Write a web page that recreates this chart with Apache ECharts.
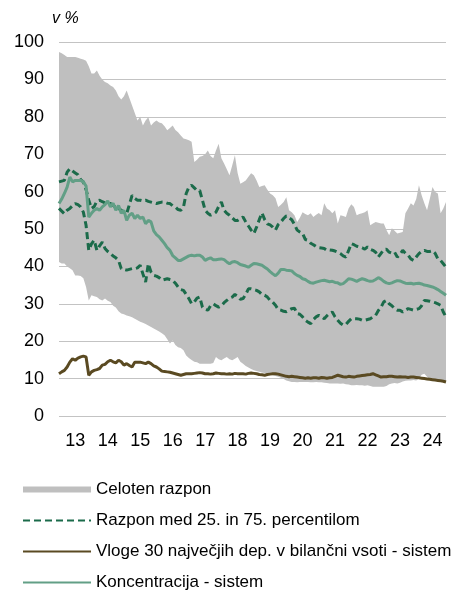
<!DOCTYPE html>
<html>
<head>
<meta charset="utf-8">
<script src="https://cdn.jsdelivr.net/npm/echarts@6/dist/echarts.min.js"></script>
<style>
  html, body { margin: 0; padding: 0; background: #fff; }
  #chart { width: 464px; height: 592px; }
</style>
</head>
<body>
<div id="chart"></div>
<script>
// monthly data, Jan 2013 - Dec 2024, in %
const years = [2013, 2014, 2015, 2016, 2017, 2018, 2019, 2020, 2021, 2022, 2023, 2024];
const yearLabels = ["13", "14", "15", "16", "17", "18", "19", "20", "21", "22", "23", "24"];

const rangeMax = [
  97.3, 97, 96.5, 96, 96, 96, 96, 95.8, 95.5, 95.3, 95, 93.5,
  91.6, 91.6, 92.4, 91, 90, 89.3, 89, 88.4, 88, 87, 85.5, 84.6,
  85.5, 87, 85, 83, 81, 79, 80, 77.7, 79, 79.9, 77.7, 78.5,
  79, 78.5, 78.3, 77.5, 76.4, 77, 77.7, 76.5, 75.9, 75, 74.2, 74,
  73.7, 73.3, 67.9, 68.5, 69.3, 69.5, 70, 71, 69.5, 68.9, 71, 72.8,
  68.9, 67.5, 66, 64.4, 67, 69.7, 65, 62.1, 62.5, 63, 64, 64.9,
  64.4, 63, 61.2, 61.5, 61.7, 60.5, 59.5, 59, 58.2, 55.9, 56.5, 57.2,
  58.5, 55, 54.5, 53.7, 51.9, 53, 54.5, 54, 53.7, 54.2, 53.2, 53.8,
  54.3, 53.7, 56.9, 55.5, 55, 54.2, 55, 51.5, 53.7, 53.5, 53.2, 55.5,
  56.6, 55.9, 53.7, 54, 54.2, 54.5, 55, 51, 51.5, 51.9, 51.7, 51.5,
  51.5, 49.7, 48.3, 50.2, 49.5, 48.8, 49, 49.2, 54.2, 55.5, 56.9, 56.3,
  58, 61.7, 59, 56.9, 55, 58, 61.2, 59.9, 59.5, 54.2, 55.5, 57.2
];

const rangeMin = [
  41.2, 40.8, 40.8, 40, 39.5, 39, 37.6, 37.6, 37.4, 36.8, 34.5, 30.9,
  32.3, 32, 31.8, 31.2, 30.9, 31.4, 30.8, 30.5, 29.5, 29, 28, 27.4,
  27.2, 26.9, 26.7, 26.4, 26, 25.6, 25.2, 24.9, 24.6, 24.2, 23.8, 23.4,
  23, 22.6, 22.1, 21.6, 20.5, 19.4, 20.2, 19, 18.4, 18.2, 17.6, 16.2,
  15.5, 15, 14.5, 14.4, 14, 14, 14, 14, 14, 14.2, 15.8, 15.2,
  14.9, 15.4, 15.8, 15.2, 14.9, 15.3, 15.8, 14.5, 14, 13.4, 13, 12.6,
  12.2, 12, 11.8, 11.6, 11.5, 11.3, 11, 10.9, 10.7, 10.5, 10.2, 9.9,
  9.5, 9.3, 9.1, 9.1, 9, 9.1, 9.1, 9.1, 9.1, 9, 9, 9.1,
  9, 9, 8.9, 8.8, 8.7, 8.7, 8.7, 8.7, 8.6, 8.7, 8.5, 8.4,
  8.2, 8.2, 8.3, 8.2, 8.2, 8.1, 8.2, 8, 7.8, 7.8, 7.8, 7.8,
  7.8, 8, 8.5, 8.7, 8.8, 8.7, 8.9, 9.2, 9.4, 9.5, 9.5, 9.6,
  9.5, 10, 11, 11.3, 10.5, 9.8, 9.5, 9.5, 9.5, 9.5, 9.4, 9.4
];

const p75 = [
  62.6, 62.8, 63, 65.2, 66.1, 65.5, 65, 64.5, 63.2, 62.6, 60.5, 57.7,
  55.5, 56, 57.5, 57.7, 57.3, 57, 56.9, 56.8, 56.3, 55.8, 55.5, 55,
  54.5, 54.1, 56.5, 59, 58.2, 57.7, 57.7, 57.5, 57.7, 57.4, 57.2, 57,
  56.8, 57, 57.2, 57.2, 56.9, 56.8, 56.2, 55.9, 55.2, 55, 55.9, 59.5,
  61.2, 61.7, 61, 60.3, 60.3, 57.7, 55, 54.2, 53.7, 54, 54.5, 56,
  57.2, 55, 54.2, 53.7, 53, 52.3, 52.3, 52.8, 53.2, 51.9, 50.8, 49.7,
  48.8, 50.5, 52.5, 54.3, 52.5, 51.4, 51.1, 50.5, 49.7, 51.2, 51.9, 52.8,
  53.5, 53, 52.5, 51.2, 49.7, 49.2, 48.8, 47.2, 47, 46.2, 45.8, 45.3,
  45, 44.9, 44.8, 44.3, 44.4, 44.3, 44.1, 43.8, 43.4, 42.8, 42.5, 44.2,
  46.1, 45.8, 45.4, 45.2, 45, 44.6, 45.2, 44.6, 44.3, 43.8, 42.5, 43.5,
  44.5, 44.6, 43.8, 43.5, 43.8, 42.5, 43.2, 44.3, 43.5, 43, 42, 41.6,
  42.5, 43.4, 44, 44.3, 44, 44, 44.2, 43.5, 42, 41.6, 40.7, 39.8
];

const p25 = [
  55.5, 54.8, 54.1, 55, 55.5, 56.2, 56.8, 56.5, 55.9, 54.5, 51, 44.3,
  46, 47, 44.3, 45.5, 46.5, 44.8, 44, 43.4, 42.8, 42.3, 41.6, 39.4,
  39.2, 39, 39.2, 39.4, 39.4, 39.6, 40.3, 38, 35.8, 40.7, 38.5, 37.6,
  37.4, 37, 36.3, 36.5, 36.7, 36.5, 36.3, 35.5, 34.5, 33.8, 33.6, 32.5,
  31.4, 30, 30.5, 31.5, 31.8, 29.1, 28.5, 28.3, 29.5, 30, 29.5, 29.1,
  29.5, 30.3, 30.9, 31.5, 31.8, 32.5, 32, 31.2, 31.4, 32.5, 34, 34,
  33.8, 33.6, 33.2, 32.5, 32.3, 31.8, 30.9, 30.4, 29.6, 28.5, 28.3, 28,
  27.9, 28.3, 28.7, 28.8, 27.4, 27.2, 26.5, 25.6, 25.1, 24.7, 25.8, 26.5,
  26.9, 26.5, 26, 26.8, 27.5, 27.8, 26.5, 25.6, 24.8, 24.3, 24.5, 25.3,
  26, 26, 26, 25.9, 25.6, 25.6, 25.8, 26, 26.5, 26.9, 28.2, 29.1,
  30.5, 30.9, 30, 29.5, 28.7, 28.3, 28.3, 27.8, 28.3, 28.7, 28.5, 28.3,
  28.5, 28.7, 29.5, 30.9, 30.8, 30.7, 30.5, 30.3, 30, 29.6, 27.8, 26.5
];

const top30 = [
  11.3, 11.8, 12.2, 13.1, 14.4, 15.3, 14.9, 15.5, 15.8, 16, 15.8, 10.9,
  11.8, 12.2, 12.4, 12.7, 13.6, 13.8, 14.5, 14.9, 14.5, 14.2, 14.9, 14.5,
  13.6, 14, 13.5, 13.1, 14.4, 14.4, 14.4, 14.2, 14, 14.4, 14, 13.4,
  13.1, 12.6, 12, 11.9, 11.8, 11.7, 11.5, 11.3, 11.1, 10.9, 11.1, 11.3,
  11.3, 11.3, 11.4, 11.5, 11.6, 11.5, 11.3, 11.3, 11.2, 11.3, 11.5, 11.4,
  11.3, 11.3, 11.2, 11.3, 11.2, 11.4, 11.3, 11.3, 11.3, 11.2, 11.4, 11.5,
  11.4, 11.3, 11.1, 11, 10.9, 11.1, 11.2, 11.3, 11.3, 11.2, 11, 10.8,
  10.6, 10.5, 10.6, 10.5, 10.4, 10.3, 10.2, 10.1, 10.2, 10.1, 10.2, 10.2,
  10.1, 10.3, 10.2, 10.1, 10.2, 10.3, 10.6, 10.9, 10.7, 10.5, 10.4, 10.6,
  10.5, 10.4, 10.6, 10.7, 10.8, 10.9, 11, 11.1, 11.3, 11, 10.7, 10.4,
  10.5, 10.5, 10.6, 10.6, 10.5, 10.4, 10.5, 10.4, 10.4, 10.3, 10.4, 10.4,
  10.3, 10.2, 10.1, 10, 9.9, 9.8, 9.7, 9.6, 9.5, 9.4, 9.3, 9.1
];

const concentration = [
  56.8, 58, 59.5, 61.2, 63.9, 62.6, 63, 63, 63, 62.6, 61.5, 53.2,
  54.2, 55, 55.5, 55, 55.9, 56.5, 57.5, 55.9, 56.9, 55, 56.3, 54.2,
  55, 52.3, 53.7, 54.2, 52.8, 53.7, 52.8, 53.2, 51.4, 52.3, 51.9, 49.5,
  48.5, 47.9, 47, 46.1, 45, 44.3, 42.9, 42.3, 41.6, 41.6, 42, 42.4,
  42.8, 43, 42.8, 43, 43, 42.5, 41.6, 42, 42.3, 41.8, 41.8, 41.9,
  42, 41.8, 41.2, 40.7, 41.2, 41.3, 41, 40.5, 40.3, 40.1, 39.8, 40.3,
  40.8, 40.7, 40.5, 40.3, 39.8, 39.3, 38.6, 38, 37.5, 38.2, 39.2, 39.2,
  39, 38.9, 38.8, 38.1, 37.6, 37.3, 36.7, 36.5, 36, 35.6, 35.5, 35.8,
  36, 36.2, 36.3, 36.1, 35.9, 36, 35.7, 35.6, 35.2, 35.4, 36, 36.7,
  36.6, 36.3, 36, 36.4, 36.7, 36.5, 36.2, 36, 36.1, 36.5, 37, 36.6,
  36, 35.6, 35.4, 35.6, 35.9, 36.2, 36.1, 35.8, 35.5, 35.4, 35.5, 35.3,
  35.4, 35.5, 35.3, 35, 34.9, 34.7, 34.5, 34.2, 33.8, 33.3, 32.8, 32.3
];

const months = [];
years.forEach(y => {
  for (let m = 1; m <= 12; m++) months.push(y + "-" + (m < 10 ? "0" + m : m));
});
const rangeWidth = rangeMax.map((v, i) => +(v - rangeMin[i]).toFixed(1));

const FONT = "'Liberation Sans', Arial, sans-serif";
const NAME_RANGE = "Celoten razpon";
const NAME_IQR = "Razpon med 25. in 75. percentilom";
const NAME_TOP30 = "Vloge 30 največjih dep. v bilančni vsoti - sistem";
const NAME_CONC = "Koncentracija - sistem";

const chart = echarts.init(document.getElementById("chart"), null, { renderer: "canvas" });

chart.setOption({
  animation: false,
  textStyle: { fontFamily: FONT },
  grid: { left: 59, right: 18, top: 42, bottom: 176 },
  graphic: [
    {
      type: "text",
      left: 52,
      top: 11,
      style: { text: "v %", font: "italic 16px " + FONT, fill: "#000" }
    }
  ],
  legend: {
    orient: "vertical",
    left: 22,
    top: 481,
    padding: 0,
    itemWidth: 68,
    itemHeight: 6,
    itemGap: 14,
    itemStyle: { opacity: 0 },
    textStyle: { fontSize: 17, color: "#000", fontFamily: FONT },
    data: [
      { name: NAME_RANGE, icon: "rect", itemStyle: { color: "#bfbfbf", opacity: 1 } },
      { name: NAME_IQR },
      { name: NAME_TOP30 },
      { name: NAME_CONC }
    ]
  },
  xAxis: {
    type: "category",
    data: months,
    boundaryGap: false,
    axisLine: { show: false },
    axisTick: { show: false },
    splitLine: { show: false },
    axisLabel: {
      interval: (i) => i % 12 === 6,
      formatter: (v, i) => yearLabels[Math.floor(i / 12)],
      fontSize: 18,
      color: "#000",
      margin: 16
    }
  },
  yAxis: {
    type: "value",
    min: 0,
    max: 100,
    interval: 10,
    axisLine: { show: false },
    axisTick: { show: false },
    axisLabel: { fontSize: 18, color: "#000", margin: 15 },
    splitLine: { lineStyle: { color: "#c3c3c3", width: 1 } }
  },
  series: [
    {
      name: "min",
      type: "line",
      data: rangeMin,
      stack: "band",
      symbol: "none",
      silent: true,
      lineStyle: { opacity: 0 }
    },
    {
      name: NAME_RANGE,
      type: "line",
      data: rangeWidth,
      stack: "band",
      symbol: "none",
      itemStyle: { color: "#bfbfbf" },
      lineStyle: { opacity: 0, width: 0 },
      areaStyle: { color: "#bfbfbf", opacity: 1 }
    },
    {
      name: NAME_IQR,
      type: "line",
      data: p75,
      symbol: "none",
      itemStyle: { color: "#1b6b4a" },
      lineStyle: { color: "#1b6b4a", width: 3, type: [7, 4] }
    },
    {
      name: NAME_IQR,
      type: "line",
      data: p25,
      symbol: "none",
      itemStyle: { color: "#1b6b4a" },
      lineStyle: { color: "#1b6b4a", width: 3, type: [7, 4] }
    },
    {
      name: NAME_TOP30,
      type: "line",
      data: top30,
      symbol: "none",
      itemStyle: { color: "#5a4a22" },
      lineStyle: { color: "#5a4a22", width: 3 }
    },
    {
      name: NAME_CONC,
      type: "line",
      data: concentration,
      symbol: "none",
      itemStyle: { color: "#629f86" },
      lineStyle: { color: "#629f86", width: 3 }
    }
  ]
});
</script>
</body>
</html>
